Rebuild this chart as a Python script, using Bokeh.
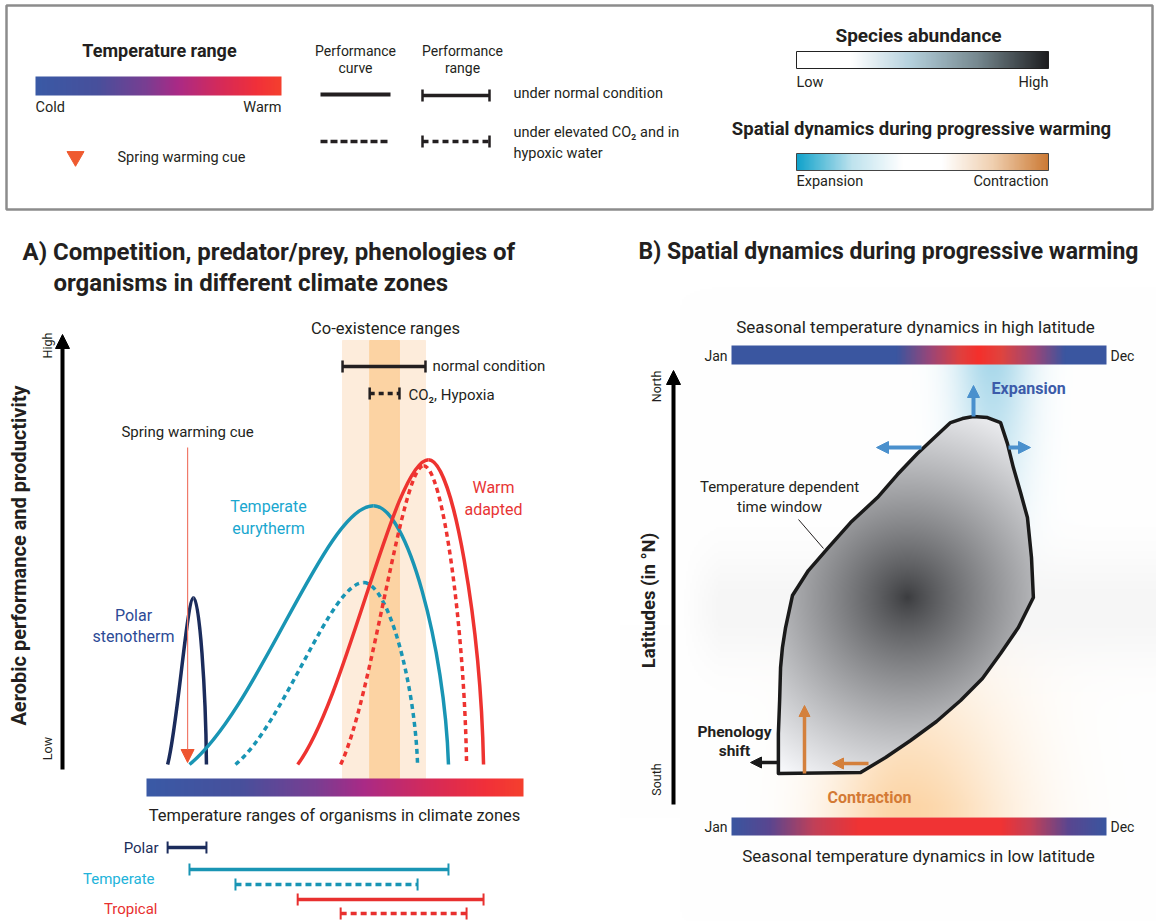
import numpy as np
from bokeh.plotting import figure
from bokeh.layouts import column, row
from bokeh.models import Range1d, Arrow, NormalHead, ColumnDataSource
from bokeh.core.properties import value
from bokeh.embed import file_html
from bokeh.resources import INLINE

FONT = "Roboto"
INK = "#231f20"

# ---------------- DATA ----------------
# Panel A: thermal performance curves (x: temperature index 0-100 along the bar, y: performance 0-100)
curve_names = ["Polar", "Temperate", "Temperate (CO2, hypoxia)", "Tropical", "Tropical (CO2, hypoxia)"]
curve_tmin = [5.6, 11.4, 23.6, 40.1, 51.5]
curve_topt = [12.5, 60.2, 57.6, 74.8, 73.5]
curve_tmax = [15.9, 80.1, 71.9, 89.4, 84.9]
curve_pmax = [38.8, 60.2, 42.3, 70.9, 69.5]
curve_colors = ["#1b2c5c", "#1995b4", "#1995b4", "#ee3330", "#ee3330"]
curve_dash = ["solid", "solid", "5 4", "solid", "5 4"]

# Co-existence ranges (normal condition, CO2 + hypoxia)
coex_lo = [52.0, 59.2]
coex_hi = [74.0, 67.1]

# Spring warming cue (temperature index)
cue_t = 10.9

# Panel B: temperature dependent time window (x: month 0-12, y: latitude index South=0 .. North=100)
win_month = [1.50, 1.50, 1.54, 1.57, 1.63, 1.73, 1.95, 2.46, 3.07, 3.81, 4.67, 5.31, 5.95, 6.53,
             7.01, 7.39, 7.74, 8.19, 8.61, 8.83, 9.02, 9.25, 9.47, 9.60, 9.66, 9.18, 8.61, 8.03,
             7.33, 6.56, 5.73, 4.93, 4.13]
win_lat = [6.93, 16.16, 23.78, 31.40, 36.02, 40.64, 48.03, 53.80, 58.88, 64.88, 70.66, 75.97, 80.82,
           84.74, 87.97, 88.90, 89.36, 89.13, 87.97, 83.12, 77.58, 71.81, 66.04, 56.80, 47.57, 40.64,
           34.64, 28.86, 23.78, 18.93, 14.55, 10.62, 7.16]
abund_center = (5.63, 47.6)

# colour ramps (position, colour)
temp_stops = [(0.0, "#3a5aa6"), (0.25, "#48509c"), (0.45, "#7a3e92"), (0.58, "#ab2a86"),
              (0.75, "#d52a5a"), (0.9, "#f1303a"), (1.0, "#f5402e")]
abund_stops = [(0.0, "#ffffff"), (0.22, "#ffffff"), (0.45, "#b6d2de"), (0.72, "#76888f"), (1.0, "#1e1e20")]
spatial_stops = [(0.0, "#10a3cb"), (0.22, "#bfe3ee"), (0.42, "#ffffff"), (0.58, "#ffffff"),
                 (0.78, "#f0d0b0"), (1.0, "#cc7a34")]
high_lat_stops = [(0.0, "#3a56a0"), (0.44, "#3a56a0"), (0.53, "#9a4678"), (0.61, "#e0403f"),
                  (0.66, "#f5302c"), (0.72, "#e0443f"), (0.81, "#9a4678"), (0.89, "#3a56a0"), (1.0, "#3a56a0")]
low_lat_stops = [(0.0, "#3a56a0"), (0.1, "#5a4690"), (0.22, "#c24058"), (0.34, "#f03334"),
                 (0.72, "#f03334"), (0.8, "#c24058"), (0.9, "#5a4690"), (1.0, "#3a56a0")]


# ---------------- helpers ----------------
def hex2rgb(h):
    h = h.lstrip("#")
    return np.array([int(h[i:i + 2], 16) for i in (0, 2, 4)], dtype=float)


def to_rgba(rgb, alpha=None):
    ny, nx = rgb.shape[:2]
    img = np.zeros((ny, nx), dtype=np.uint32)
    v = img.view(dtype=np.uint8).reshape((ny, nx, 4))
    v[..., :3] = np.clip(rgb, 0, 255).astype(np.uint8)
    v[..., 3] = 255 if alpha is None else np.clip(alpha, 0, 255).astype(np.uint8)
    return img


def ramp(stops, n=300):
    pos = np.array([s[0] for s in stops])
    cols = np.array([hex2rgb(s[1]) for s in stops])
    t = np.linspace(0, 1, n)
    rgb = np.stack([np.interp(t, pos, cols[:, k]) for k in range(3)], axis=-1)
    return to_rgba(rgb[None, :, :])


def txt(p, x, y, s, size, color=INK, align="left", bold=False, angle=0.0):
    p.text(x=[x], y=[y], text=[s], text_font=value(FONT), text_font_size=f"{size}px",
           text_color=color, text_align=align, text_baseline="middle",
           text_font_style="bold" if bold else "normal", angle=angle)


def base_fig(w, h, xr, yr):
    p = figure(width=w, height=h, x_range=Range1d(*xr), y_range=Range1d(*yr),
               toolbar_location=None, output_backend="svg", x_axis_location=None,
               y_axis_location=None, min_border=0, background_fill_color="white")
    p.grid.visible = False
    p.outline_line_color = None
    return p


def inside(px, py, vx, vy):
    res = np.zeros(px.shape, dtype=bool)
    n = len(vx)
    for i in range(n):
        x1, y1, x2, y2 = vx[i], vy[i], vx[(i + 1) % n], vy[(i + 1) % n]
        if y1 == y2:
            continue
        cond = ((y1 > py) != (y2 > py)) & (px < (x2 - x1) * (py - y1) / (y2 - y1) + x1)
        res ^= cond
    return res


W, H = 1156, 921
TOP = 215
SPLIT = 620

# ================= LEGEND =================
LY = lambda py: TOP - py
leg = base_fig(W, TOP, (0, W), (0, TOP))
leg.quad(left=6, right=1152, top=LY(5), bottom=LY(209), fill_color=None, line_color="#8c8c8c", line_width=2.5)

S = 14.5
txt(leg, 159, LY(50), "Temperature range", 18, bold=True, align="center")
leg.image_rgba(image=[ramp(temp_stops)], x=35, y=LY(95), dw=246, dh=19)
txt(leg, 35, LY(107), "Cold", S)
txt(leg, 281, LY(107), "Warm", S, align="right")
leg.scatter(x=[75], y=[LY(156)], marker="inverted_triangle", size=17, color="#ef5a2f")
txt(leg, 117, LY(157), "Spring warming cue", S)

txt(leg, 355, LY(50), "Performance", 14, align="center")
txt(leg, 355, LY(67), "curve", 14, align="center")
txt(leg, 462, LY(50), "Performance", 14, align="center")
txt(leg, 462, LY(67), "range", 14, align="center")
leg.line([320, 390], [LY(94), LY(94)], line_width=4, color=INK)
leg.line([320, 390], [LY(141), LY(141)], line_width=3.5, color=INK, line_dash="7 3")
for yy, dash in ((95, "solid"), (141, "6 4")):
    leg.line([422, 489], [LY(yy), LY(yy)], line_width=3.5, color=INK, line_dash=dash)
    leg.segment(x0=[422, 489], y0=[LY(yy - 6)] * 2, x1=[422, 489], y1=[LY(yy + 6)] * 2, line_width=2.5, color=INK)
txt(leg, 513, LY(93), "under normal condition", S)
txt(leg, 513, LY(132), "under elevated CO\u2082 and in", S)
txt(leg, 513, LY(153), "hypoxic water", S)

txt(leg, 918, LY(35), "Species abundance", 19, bold=True, align="center")
leg.image_rgba(image=[ramp(abund_stops)], x=796, y=LY(68), dw=252, dh=17)
leg.quad(left=796, right=1048, top=LY(51), bottom=LY(68), fill_color=None, line_color="#222222", line_width=1)
txt(leg, 796, LY(82), "Low", S)
txt(leg, 1048, LY(82), "High", S, align="right")
txt(leg, 921, LY(128), "Spatial dynamics during progressive warming", 18.5, bold=True, align="center")
leg.image_rgba(image=[ramp(spatial_stops)], x=796, y=LY(170), dw=252, dh=17)
leg.quad(left=796, right=1048, top=LY(153), bottom=LY(170), fill_color=None, line_color="#444444", line_width=1)
txt(leg, 796, LY(181), "Expansion", S)
txt(leg, 1048, LY(181), "Contraction", S, align="right")

# ================= PANEL A =================
AX = lambda px: (px - 146) / 3.77
AY = lambda py: (764 - py) / 4.3
pa = base_fig(SPLIT, H - TOP, (AX(0), AX(SPLIT)), (AY(H), AY(TOP)))
pa.quad(left=[coex_lo[0]], right=[coex_hi[0]], bottom=[AY(778)], top=[AY(340)], color="#fdecdb")
pa.quad(left=[coex_lo[1]], right=[coex_hi[1]], bottom=[AY(778)], top=[AY(340)], color="#fcd3a3")

pa.add_layout(Arrow(end=NormalHead(size=14, fill_color="black", line_color="black"),
                    x_start=AX(62), y_start=AY(769), x_end=AX(62), y_end=AY(334),
                    line_width=4, line_color="black"))
txt(pa, AX(47), AY(345), "High", 12.5, align="center", angle=np.pi / 2)
txt(pa, AX(47), AY(748), "Low", 12.5, align="center", angle=np.pi / 2)
txt(pa, AX(18), AY(555), "Aerobic performance and productivity", 20, bold=True, align="center", angle=np.pi / 2)

tmin = np.array(curve_tmin); topt = np.array(curve_topt); tmax = np.array(curve_tmax); pmax = np.array(curve_pmax)
rise = dict(x0=tmin, y0=np.zeros(5), x1=topt, y1=pmax,
            cx0=tmin + 0.38 * (topt - tmin), cy0=0.22 * pmax,
            cx1=tmin + 0.74 * (topt - tmin), cy1=pmax)
fall = dict(x0=topt, y0=pmax, x1=tmax, y1=np.zeros(5),
            cx0=topt + 0.45 * (tmax - topt), cy0=pmax,
            cx1=topt + 0.95 * (tmax - topt), cy1=0.45 * pmax)
for i in range(5):
    for src in (rise, fall):
        d = {k: [src[k][i]] for k in ("x0", "y0", "x1", "y1", "cx0", "cy0", "cx1", "cy1")}
        pa.bezier(source=ColumnDataSource(d), x0="x0", y0="y0", x1="x1", y1="y1",
                  cx0="cx0", cy0="cy0", cx1="cx1", cy1="cy1",
                  line_color=curve_colors[i], line_width=3.5, line_dash=curve_dash[i])

pa.add_layout(Arrow(end=NormalHead(size=13, fill_color="#ee5530", line_color="#ee5530"),
                    x_start=cue_t, y_start=AY(447), x_end=cue_t, y_end=AY(762),
                    line_width=1.2, line_color="#f07a6a"))
txt(pa, cue_t, AY(431), "Spring warming cue", 15, align="center")

pa.image_rgba(image=[ramp(temp_stops)], x=0, y=AY(796), dw=100, dh=AY(778) - AY(796))
txt(pa, AX(334), AY(815), "Temperature ranges of organisms in climate zones", 16.5, align="center")

tick = 1.4
row_y = [AY(847), AY(869), AY(884), AY(899), AY(913)]
range_dash = ["solid", "solid", "6 4", "solid", "6 4"]
range_cols = ["#1b2c5c", "#1995b4", "#1995b4", "#e8302f", "#e8302f"]
for i in range(5):
    pa.line([curve_tmin[i], curve_tmax[i]], [row_y[i]] * 2, line_width=3.5, color=range_cols[i], line_dash=range_dash[i])
    pa.segment(x0=[curve_tmin[i], curve_tmax[i]], y0=[row_y[i] - tick] * 2, x1=[curve_tmin[i], curve_tmax[i]],
               y1=[row_y[i] + tick] * 2, line_width=2, color=range_cols[i])
txt(pa, AX(158), AY(847), "Polar", 15, color="#1c2e5a", align="right")
txt(pa, AX(154), AY(878), "Temperate", 15, color="#22b3da", align="right")
txt(pa, AX(157), AY(908), "Tropical", 15, color="#e8302f", align="right")

txt(pa, AX(385), AY(328), "Co-existence ranges", 16.5, align="center")
for yy, j, dash in ((366, 0, "solid"), (393, 1, "5 4")):
    pa.line([coex_lo[j], coex_hi[j]], [AY(yy)] * 2, line_width=3.5, color=INK, line_dash=dash)
    pa.segment(x0=[coex_lo[j], coex_hi[j]], y0=[AY(yy) - tick] * 2, x1=[coex_lo[j], coex_hi[j]],
               y1=[AY(yy) + tick] * 2, line_width=2.5, color=INK)
txt(pa, AX(432), AY(365), "normal condition", 15)
txt(pa, AX(408), AY(394), "CO\u2082, Hypoxia", 15)

txt(pa, AX(133), AY(615), "Polar", 16, color="#2c4a96", align="center")
txt(pa, AX(133), AY(636), "stenotherm", 16, color="#2c4a96", align="center")
txt(pa, AX(268), AY(506), "Temperate", 16, color="#1aa7cf", align="center")
txt(pa, AX(268), AY(528), "eurytherm", 16, color="#1aa7cf", align="center")
txt(pa, AX(493), AY(487), "Warm", 16, color="#e83535", align="center")
txt(pa, AX(493), AY(509), "adapted", 16, color="#e83535", align="center")

txt(pa, AX(22), AY(251), "A) Competition, predator/prey, phenologies of", 24, bold=True)
txt(pa, AX(53), AY(282), "organisms in different climate zones", 24, bold=True)

# ================= PANEL B =================
BX = lambda px: (px - 731) / 31.25
BY = lambda py: (803 - py) / 4.33
pb = base_fig(W - SPLIT, H - TOP, (BX(SPLIT), BX(W)), (BY(H), BY(TOP)))

# soft background glows
nx, ny = (W - SPLIT) // 2, (H - TOP) // 2
Xs = SPLIT + (np.arange(nx) + 0.5) * 2
Ys = H - (np.arange(ny) + 0.5) * 2
XX, YY = np.meshgrid(Xs, Ys)
rgb = np.full((ny, nx, 3), 255.0)
band = 9 * np.exp(-((YY - 608) / 55) ** 2) * np.clip((XX - 680) / 40, 0, 1)
rgb -= band[..., None]
a_b = 0.95 * np.exp(-((XX - 992) / 38) ** 2) * np.clip(1 - (YY - 365) / 230, 0, 1) ** 1.1 * (YY >= 364)
rgb = rgb * (1 - a_b[..., None]) + hex2rgb("#a6d7ea") * a_b[..., None]
sig = np.where(XX < 905, 75, 105)
a_o = 0.95 * np.exp(-((XX - 905) / sig) ** 2) * np.clip((YY - 625) / 180, 0, 1) ** 0.9 * (YY <= 817)
rgb = rgb * (1 - a_o[..., None]) + hex2rgb("#fcd3a2") * a_o[..., None]
pb.image_rgba(image=[to_rgba(rgb)], x=BX(SPLIT), y=BY(H), dw=BX(W) - BX(SPLIT), dh=BY(TOP) - BY(H))

# bars
pb.image_rgba(image=[ramp(high_lat_stops)], x=0, y=BY(364), dw=12, dh=BY(345) - BY(364))
pb.image_rgba(image=[ramp(low_lat_stops)], x=0, y=BY(835), dw=12, dh=BY(817) - BY(835))
txt(pb, BX(915), BY(326), "Seasonal temperature dynamics in high latitude", 17, align="center")
txt(pb, BX(918), BY(855), "Seasonal temperature dynamics in low latitude", 17, align="center")
for yy in (355, 826):
    txt(pb, BX(727), BY(yy), "Jan", 14, align="right")
    txt(pb, BX(1110), BY(yy), "Dec", 14)

# time window with radial abundance gradient
x0p, x1p, y0p, y1p = 770, 1040, 410, 780
gx = x0p + np.arange(x1p - x0p) + 0.5
gy = y1p - (np.arange(y1p - y0p) + 0.5)
GX, GY = np.meshgrid(gx, gy)
mask = inside(BX(GX), BY(GY), win_month, win_lat)
cxp = 731 + abund_center[0] * 31.25
cyp = 803 - abund_center[1] * 4.33
dist = np.sqrt((GX - cxp) ** 2 + (GY - cyp) ** 2)
g = 60 + 190 * np.clip(dist / 215, 0, 1) ** 0.85
prgb = np.stack([g - 1, g, g + 3], axis=-1)
pb.image_rgba(image=[to_rgba(prgb, np.where(mask, 255, 0))], x=BX(x0p), y=BY(y1p),
              dw=BX(x1p) - BX(x0p), dh=BY(y0p) - BY(y1p))
pb.patch(win_month, win_lat, fill_color=None, line_color="#1a1a1a", line_width=3.5, line_join="round")

# axis
pb.add_layout(Arrow(end=NormalHead(size=14, fill_color="black", line_color="black"),
                    x_start=BX(673), y_start=BY(804), x_end=BX(673), y_end=BY(370),
                    line_width=4, line_color="black"))
txt(pb, BX(656), BY(386), "North", 12.5, align="center", angle=np.pi / 2)
txt(pb, BX(656), BY(779), "South", 12.5, align="center", angle=np.pi / 2)
txt(pb, BX(648), BY(600), "Latitudes (in \u00b0N)", 18.5, bold=True, align="center", angle=np.pi / 2)

BLUE = "#4a90cd"
ORANGE = "#d4803c"
def arrow(p, xs, ys, xe, ye, color, size=12, w=4):
    p.add_layout(Arrow(end=NormalHead(size=size, fill_color=color, line_color=color),
                       x_start=xs, y_start=ys, x_end=xe, y_end=ye, line_width=w, line_color=color))

arrow(pb, BX(973), BY(416), BX(973), BY(385), BLUE)
arrow(pb, BX(921), BY(447), BX(876), BY(447), BLUE)
arrow(pb, BX(1008), BY(447), BX(1030), BY(447), BLUE)
arrow(pb, BX(804), BY(773), BX(804), BY(705), ORANGE, size=11, w=3.5)
arrow(pb, BX(868), BY(763), BX(832), BY(763), ORANGE, size=11, w=3.5)
arrow(pb, BX(778), BY(762), BX(750), BY(762), "#1a1a1a", size=11, w=3.5)

txt(pb, BX(991), BY(388), "Expansion", 16, color="#3c5ba9", bold=True)
txt(pb, BX(869), BY(797), "Contraction", 16, color="#d47a35", bold=True, align="center")
txt(pb, BX(734), BY(731), "Phenology", 15.5, bold=True, align="center")
txt(pb, BX(734), BY(750), "shift", 15.5, bold=True, align="center")
txt(pb, BX(779), BY(486), "Temperature dependent", 15, align="center")
txt(pb, BX(779), BY(506), "time window", 15, align="center")
pb.line([BX(798), BX(823)], [BY(519), BY(548)], line_width=1, color=INK)

txt(pb, BX(638), BY(251), "B) Spatial dynamics during progressive warming", 23, bold=True)

layout = column(leg, row(pa, pb))
open("out.html", "w").write(file_html(layout, INLINE))
